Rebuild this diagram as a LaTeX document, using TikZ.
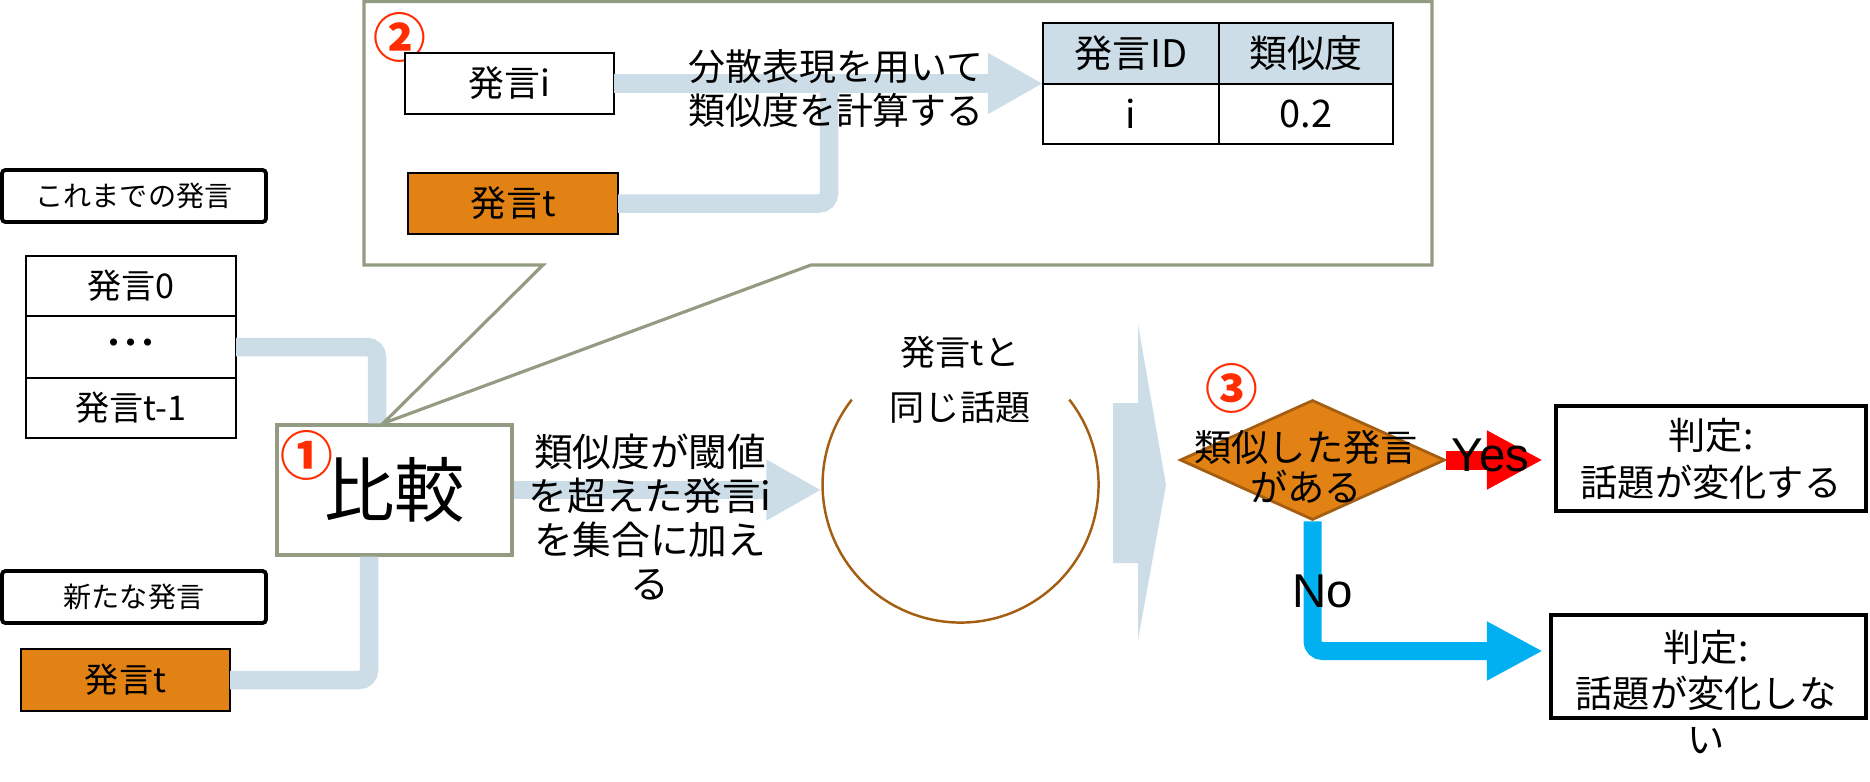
\documentclass[tikz,border=0pt]{standalone}
\usepackage{fontspec}
\setmainfont{Noto Sans CJK JP}
\newfontfamily\arialfont{Liberation Sans}
\usepackage{tikz}
\usetikzlibrary{shapes.geometric, positioning, arrows.meta}
\definecolor{TpBlue}{RGB}{204,221,232}
\definecolor{TpOrange}{RGB}{227,130,20}
\definecolor{TpBrown}{RGB}{163,94,18}
\definecolor{TpSage}{RGB}{147,156,130}
\definecolor{TpRed}{RGB}{255,0,0}
\definecolor{TpCyan}{RGB}{0,176,240}
\definecolor{TpMark}{RGB}{255,45,0}

\tikzset{
  tagbox/.style={draw=black, line width=1.1pt, rounded corners=1pt, fill=white,
    minimum width=2.64cm, minimum height=0.52cm, inner sep=0pt,
    font=\fontsize{8}{9}\selectfont},
  cellbox/.style={draw=black, line width=0.6pt, fill=white, outer sep=0pt,
    minimum width=2.10cm, inner sep=0pt, font=\fontsize{9.7}{11}\selectfont},
  uttbox/.style={cellbox, fill=TpOrange},
  tblbox/.style={draw=black, line width=0.6pt, outer sep=0pt, inner sep=0pt,
    minimum height=0.605cm, font=\fontsize{10.8}{12}\selectfont},
  conn/.style={TpBlue, line width=0.185cm, rounded corners=0.1cm},
  tipbig/.style={-{Triangle[length=0.55cm, width=0.57cm]}},
  numtag/.style={TpMark, font=\bfseries\fontsize{15}{15}\selectfont},
  judgebox/.style={draw=black, line width=1.2pt, inner sep=0pt, fill=white},
  sidetext/.style={align=center, inner sep=0pt},
  yesno/.style={text=black, font=\arialfont\fontsize{13.5}{14}\selectfont}
}

\begin{document}
\begin{tikzpicture}
  \useasboundingbox (0,0) rectangle (18.7,7.81);

  % past and new utterances
  \node[tagbox] (pastlbl) at (1.34,5.85) {これまでの発言};
  \node[cellbox, minimum height=0.60cm] (s0) at (1.31,4.95) {発言0};
  \node[cellbox, minimum height=0.62cm, below=0pt of s0, font=\bfseries\fontsize{9.7}{11}\selectfont] (s1) {･･･};
  \node[cellbox, minimum height=0.60cm, below=0pt of s1] (s2) {発言t-1};

  \node[tagbox] (newlbl) at (1.34,1.84) {新たな発言};
  \node[uttbox, minimum width=2.09cm, minimum height=0.62cm] (ut) at (1.255,1.01) {発言t};

  % compare
  \node[draw=TpSage, line width=0.9pt, fill=white, minimum width=2.35cm,
        minimum height=1.30cm, inner sep=0pt, font=\fontsize{20}{22}\selectfont]
        (cmp) at (3.945,2.91) {比較};
  \node[numtag] (n1) at (3.07,3.26) {①};

  \draw[conn] (s1.east) -| ([xshift=-0.175cm]cmp.north);
  \draw[conn] (ut.east) -| ([xshift=-0.255cm]cmp.south);

  % callout
  \coordinate (tip) at ([xshift=-0.115cm]cmp.north);
  \filldraw[fill=white, draw=TpSage, line width=0.9pt]
    (3.64,7.795) -- (14.32,7.795) -- (14.32,5.16) -- (8.11,5.16)
    -- (tip) -- (5.43,5.16) -- (3.64,5.16) -- cycle;
  \node[numtag] (n2) at (4.00,7.44) {②};

  \node[cellbox, minimum width=2.09cm, minimum height=0.61cm,
        font=\fontsize{10.2}{12}\selectfont] (ui) at (5.095,6.975) {発言i};
  \node[uttbox, minimum width=2.10cm, minimum height=0.61cm,
        font=\fontsize{10.2}{12}\selectfont] (ut2) at (5.13,5.775) {発言t};

  \node[tblbox, fill=TpBlue, minimum width=1.76cm] (h1) at (11.31,7.275) {発言ID};
  \node[tblbox, fill=TpBlue, minimum width=1.74cm, right=0pt of h1] (h2) {類似度};
  \node[tblbox, minimum width=1.76cm, below=0pt of h1] (c1) {i};
  \node[tblbox, minimum width=1.74cm, below=0pt of h2] (c2) {0.2};

  \coordinate (merge) at (8.29,6.975);
  \draw[conn] (ut2.east) -| (merge);
  \draw[conn, tipbig] (ui.east) -- (ui.east -| h1.south west);
  \node[sidetext, font=\fontsize{10.5}{12.3}\selectfont] (embtxt) at (8.36,6.925)
    {分散表現を用いて\\類似度を計算する};

  % same topic set
  \node[circle, minimum size=2.76cm, inner sep=0pt] (topic) at (9.60,2.96) {};
  \draw[TpBrown, line width=0.7pt] (topic.38) arc[start angle=38, end angle=-218, radius=1.38cm];
  \node[sidetext, font=\fontsize{10}{15.6}\selectfont] (topiclbl) at (9.60,4.015)
    {発言tと\\同じ話題};

  \draw[conn, tipbig] (cmp.east) -- (cmp.east -| topic.west);
  \node[sidetext, font=\fontsize{11}{12.5}\selectfont] (simlbl) at (6.50,2.64)
    {類似度が閾値\\を超えた発言i\\を集合に加え\\る};

  % block arrow
  \fill[TpBlue] (11.13,3.78) -- (11.38,3.78) -- (11.38,4.57) -- (11.66,2.96)
    -- (11.38,1.41) -- (11.38,2.18) -- (11.13,2.18) -- cycle;

  % decision
  \node[diamond, draw=TpBrown, line width=0.8pt, fill=TpOrange, inner sep=0pt,
        minimum width=2.65cm, minimum height=1.20cm] (dec) at (13.125,3.21) {};
  \node[sidetext, font=\fontsize{10.6}{11.5}\selectfont] (declbl) at (13.06,3.14)
    {類似した発言\\がある};
  \node[numtag] (n3) at (12.32,3.93) {③};

  \node[judgebox, minimum width=3.10cm, minimum height=1.05cm, align=center,
        font=\fontsize{10.6}{13.4}\selectfont] (yesbox) at (17.11,3.225)
    {判定:\\話題が変化する};
  \node[judgebox, minimum width=3.15cm, minimum height=1.03cm] (nobox) at (17.085,1.145) {};
  \node[sidetext, font=\fontsize{10.6}{13.2}\selectfont] (notxt) at (17.06,0.89)
    {判定:\\話題が変化しな\\い};

  \draw[TpRed, line width=0.19cm, -{Triangle[length=0.56cm, width=0.55cm]}, shorten >=0.11cm]
    (dec.east) -- (dec.east -| yesbox.west)
    node[yesno, pos=0.41, yshift=0.05cm] {Yes};
  \draw[TpCyan, line width=0.18cm, rounded corners=0.1cm,
        -{Triangle[length=0.56cm, width=0.55cm]}, shorten >=0.06cm]
    (dec.south) |- ([yshift=0.155cm]nobox.west)
    node[yesno, pos=0.27, xshift=0.1cm] {No};
\end{tikzpicture}
\end{document}
